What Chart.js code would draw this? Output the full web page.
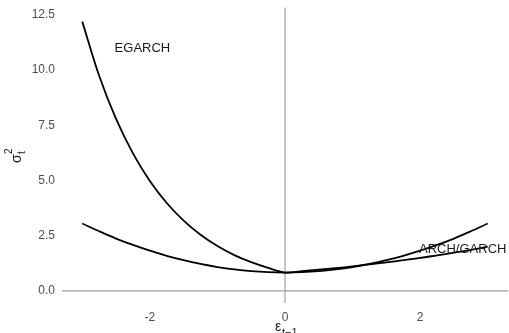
<!DOCTYPE html>
<html>
<head>
<meta charset="utf-8">
<script src="https://cdn.jsdelivr.net/npm/chart.js@4"></script>
<style>
  html, body { margin: 0; padding: 0; background: #fff; }
  #wrap { width: 509px; height: 333px; position: relative; }
</style>
</head>
<body>
<div id="wrap"><canvas id="nic"></canvas></div>
<script>
// shock values (epsilon_{t-1})
const shocks = [-3, -2.75, -2.5, -2.25, -2, -1.75, -1.5, -1.25, -1, -0.75, -0.5, -0.25, 0,
                0.25, 0.5, 0.75, 1, 1.25, 1.5, 1.75, 2, 2.25, 2.5, 2.75, 3];

// conditional variance
const egarchVals = [12.2, 9.75, 7.79, 6.23, 4.98, 3.98, 3.18, 2.54, 2.03, 1.62, 1.30, 1.04, 0.83,
                    0.89, 0.96, 1.03, 1.11, 1.20, 1.29, 1.39, 1.49, 1.61, 1.73, 1.86, 2.00];
const garchVals = [3.05, 2.70, 2.37, 2.08, 1.82, 1.59, 1.39, 1.22, 1.08, 0.97, 0.89, 0.845, 0.83,
                   0.845, 0.89, 0.97, 1.08, 1.22, 1.39, 1.59, 1.82, 2.08, 2.37, 2.70, 3.05];

const yTicks = [0, 2.5, 5, 7.5, 10, 12.5];
const xTicks = [-2, 0, 2];

const curveLabels = [
    { text: 'EGARCH', x: -2.11, y: 11.0 },
    { text: 'ARCH/GARCH', x: 2.63, y: 1.86 }
];

const toPoints = (vals) => shocks.map((x, i) => ({ x: x, y: vals[i] }));

const FONT = '"Liberation Sans", Arial, sans-serif';

// zero lines, curve labels and axis titles
const decorations = {
    id: 'decorations',
    beforeDatasetsDraw(chart) {
        const { ctx, chartArea, scales } = chart;
        const x0 = scales.x.getPixelForValue(0);
        const y0 = scales.y.getPixelForValue(0);
        ctx.save();
        ctx.strokeStyle = '#a0a0a0';
        ctx.lineWidth = 1.2;
        ctx.beginPath();
        ctx.moveTo(chartArea.left, y0);
        ctx.lineTo(chartArea.right, y0);
        ctx.moveTo(x0, chartArea.top);
        ctx.lineTo(x0, chartArea.bottom);
        ctx.stroke();
        ctx.restore();
    },
    afterDatasetsDraw(chart) {
        const { ctx, scales } = chart;
        ctx.save();
        ctx.fillStyle = '#1a1a1a';
        ctx.font = '13px ' + FONT;
        ctx.textAlign = 'center';
        ctx.textBaseline = 'middle';
        curveLabels.forEach(l => {
            ctx.fillText(l.text, scales.x.getPixelForValue(l.x), scales.y.getPixelForValue(l.y));
        });

        // x title: epsilon with subscript t-1
        ctx.textAlign = 'left';
        ctx.textBaseline = 'alphabetic';
        ctx.font = '14px ' + FONT;
        ctx.fillText('ε', 275, 331);
        ctx.font = '11px ' + FONT;
        ctx.fillText('t\u22121', 282, 336);

        // y title: sigma with superscript 2 and subscript t, rotated
        ctx.translate(21, 158);
        ctx.rotate(-Math.PI / 2);
        ctx.font = '14px ' + FONT;
        ctx.fillText('σ', -5, 0);
        ctx.font = '10px ' + FONT;
        ctx.fillText('2', 4, -9);
        ctx.fillText('t', 4, 4);
        ctx.restore();
    }
};

new Chart(document.getElementById('nic'), {
    type: 'line',
    data: {
        datasets: [
            {
                label: 'EGARCH',
                data: toPoints(egarchVals),
                borderColor: '#000',
                borderWidth: 1.8,
                pointRadius: 0,
                tension: 0.35,
                fill: false
            },
            {
                label: 'ARCH/GARCH',
                data: toPoints(garchVals),
                borderColor: '#000',
                borderWidth: 1.8,
                pointRadius: 0,
                tension: 0.35,
                fill: false
            }
        ]
    },
    options: {
        responsive: true,
        maintainAspectRatio: false,
        animation: false,
        layout: { padding: { top: 7.5, right: 1, left: 0, bottom: 0 } },
        plugins: {
            legend: { display: false },
            tooltip: { enabled: false }
        },
        scales: {
            x: {
                type: 'linear',
                min: -3.3,
                max: 3.3,
                grid: { display: false, drawTicks: false },
                border: { display: false },
                afterFit: (s) => { s.height = 30; s.paddingLeft = 0; s.paddingRight = 0; },
                afterBuildTicks: (s) => { s.ticks = xTicks.map(v => ({ value: v })); },
                ticks: {
                    padding: 7,
                    color: '#4d4d4d',
                    font: { size: 12, family: FONT },
                    callback: (v) => String(v)
                }
            },
            y: {
                type: 'linear',
                min: -0.55,
                max: 12.84,
                grid: { display: false, drawTicks: false },
                border: { display: false },
                afterFit: (s) => { s.width = 62; s.paddingTop = 0; s.paddingBottom = 0; },
                afterBuildTicks: (s) => { s.ticks = yTicks.map(v => ({ value: v })); },
                ticks: {
                    padding: 7,
                    color: '#4d4d4d',
                    font: { size: 12, family: FONT },
                    callback: (v) => v.toFixed(1)
                }
            }
        }
    },
    plugins: [decorations]
});
</script>
</body>
</html>
